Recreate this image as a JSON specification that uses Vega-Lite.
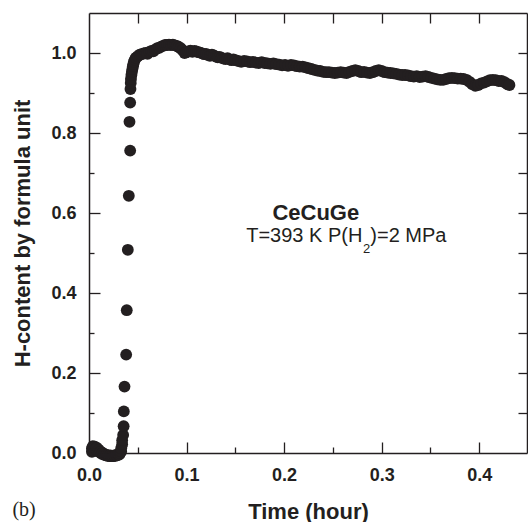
{
"$schema": "https://vega.github.io/schema/vega-lite/v6.json",
"width": 438, "height": 440,
"autosize": {"type": "none"},
"padding": {"left": 89, "top": 13, "right": 1, "bottom": 69},
"background": "white",
"config": {"view": {"stroke": null}, "axis": {"grid": false, "domainColor": "#231f20", "domainWidth": 1.5, "tickColor": "#231f20", "tickWidth": 1.3, "labelFont": "Liberation Sans", "labelFontWeight": "bold", "labelFontSize": 18, "labelColor": "#231f20", "titleFont": "Liberation Sans", "titleFontWeight": "bold", "titleFontSize": 22, "titleColor": "#231f20", "labelOverlap": false, "labelFlush": false, "labelBound": false}},
"datasets": {"h": [
{"t":0.003,"h":0.003},{"t":0.003,"h":0.012},{"t":0.004,"h":0.017},{"t":0.005,"h":0.006},{"t":0.006,"h":0.016},{"t":0.007,"h":0.010},{"t":0.008,"h":0.013},{"t":0.009,"h":0.004},{"t":0.010,"h":0.008},{"t":0.011,"h":0.002},{"t":0.012,"h":0.003},{"t":0.013,"h":-0.002},{"t":0.014,"h":0.0},{"t":0.015,"h":-0.004},{"t":0.016,"h":-0.003},{"t":0.017,"h":-0.006},{"t":0.018,"h":-0.005},{"t":0.019,"h":-0.007},{"t":0.020,"h":-0.006},{"t":0.021,"h":-0.008},{"t":0.022,"h":-0.006},{"t":0.023,"h":-0.008},{"t":0.024,"h":-0.007},{"t":0.025,"h":-0.008},{"t":0.026,"h":-0.006},{"t":0.027,"h":-0.007},{"t":0.028,"h":-0.005},{"t":0.029,"h":-0.006},{"t":0.030,"h":-0.003},{"t":0.031,"h":-0.004},{"t":0.032,"h":0.0},{"t":0.033,"h":0.004},{"t":0.033,"h":0.012},{"t":0.034,"h":0.022},{"t":0.034,"h":0.032},{"t":0.035,"h":0.045},{"t":0.0355,"h":0.067},{"t":0.0357,"h":0.104},{"t":0.0364,"h":0.166},{"t":0.0381,"h":0.246},{"t":0.0387,"h":0.357},{"t":0.0398,"h":0.508},{"t":0.0408,"h":0.643},{"t":0.0422,"h":0.756},{"t":0.0415,"h":0.828},{"t":0.0422,"h":0.876},{"t":0.0425,"h":0.91},
{"t":0.0428,"h":0.925},{"t":0.043,"h":0.935},{"t":0.0435,"h":0.945},{"t":0.044,"h":0.953},{"t":0.0445,"h":0.96},{"t":0.045,"h":0.967},{"t":0.0455,"h":0.972},{"t":0.046,"h":0.978},{"t":0.047,"h":0.983},{"t":0.048,"h":0.988},{"t":0.050,"h":0.992},{"t":0.052,"h":0.996},{"t":0.054,"h":0.997},{"t":0.056,"h":0.999},{"t":0.058,"h":1.0},{"t":0.060,"h":0.998},{"t":0.062,"h":1.003},{"t":0.064,"h":1.005},{"t":0.066,"h":1.004},{"t":0.068,"h":1.009},{"t":0.070,"h":1.012},{"t":0.072,"h":1.013},{"t":0.074,"h":1.016},{"t":0.076,"h":1.018},{"t":0.078,"h":1.02},{"t":0.080,"h":1.02},{"t":0.082,"h":1.021},{"t":0.084,"h":1.02},{"t":0.086,"h":1.021},{"t":0.088,"h":1.019},{"t":0.090,"h":1.018},{"t":0.092,"h":1.015},{"t":0.094,"h":1.012},{"t":0.096,"h":1.007},{"t":0.098,"h":1.0},{"t":0.100,"h":1.002},{"t":0.102,"h":1.004},{"t":0.104,"h":1.006},{"t":0.106,"h":1.003},{"t":0.108,"h":1.005},{"t":0.110,"h":1.004},{"t":0.112,"h":1.002},{"t":0.114,"h":1.001},{"t":0.116,"h":0.999},{"t":0.118,"h":0.997},{"t":0.120,"h":0.998},{"t":0.122,"h":0.995},{"t":0.124,"h":0.993},{"t":0.126,"h":0.996},{"t":0.128,"h":0.994},{"t":0.130,"h":0.991},{"t":0.132,"h":0.989},{"t":0.134,"h":0.99},{"t":0.136,"h":0.988},{"t":0.138,"h":0.986},{"t":0.140,"h":0.985},{"t":0.142,"h":0.987},{"t":0.144,"h":0.984},{"t":0.146,"h":0.982},{"t":0.148,"h":0.984},{"t":0.150,"h":0.982},{"t":0.153,"h":0.98},{"t":0.156,"h":0.978},{"t":0.159,"h":0.98},{"t":0.162,"h":0.979},{"t":0.165,"h":0.977},{"t":0.168,"h":0.978},{"t":0.171,"h":0.976},{"t":0.174,"h":0.975},{"t":0.177,"h":0.977},{"t":0.180,"h":0.975},{"t":0.183,"h":0.974},{"t":0.186,"h":0.973},{"t":0.189,"h":0.974},{"t":0.192,"h":0.972},{"t":0.195,"h":0.971},{"t":0.198,"h":0.969},{"t":0.201,"h":0.97},{"t":0.204,"h":0.968},{"t":0.207,"h":0.97},{"t":0.210,"h":0.969},{"t":0.213,"h":0.967},{"t":0.216,"h":0.966},{"t":0.219,"h":0.966},{"t":0.222,"h":0.964},{"t":0.225,"h":0.962},{"t":0.228,"h":0.96},{"t":0.231,"h":0.958},{"t":0.234,"h":0.956},{"t":0.237,"h":0.955},{"t":0.240,"h":0.953},{"t":0.243,"h":0.952},{"t":0.246,"h":0.952},{"t":0.249,"h":0.951},{"t":0.252,"h":0.95},{"t":0.255,"h":0.951},{"t":0.258,"h":0.952},{"t":0.261,"h":0.951},{"t":0.264,"h":0.95},{"t":0.267,"h":0.953},{"t":0.270,"h":0.955},{"t":0.273,"h":0.957},{"t":0.276,"h":0.955},{"t":0.279,"h":0.952},{"t":0.282,"h":0.953},{"t":0.285,"h":0.951},{"t":0.288,"h":0.95},{"t":0.291,"h":0.952},{"t":0.294,"h":0.955},{"t":0.297,"h":0.957},{"t":0.300,"h":0.955},{"t":0.303,"h":0.952},{"t":0.306,"h":0.951},{"t":0.309,"h":0.95},{"t":0.312,"h":0.949},{"t":0.315,"h":0.948},{"t":0.318,"h":0.946},{"t":0.321,"h":0.945},{"t":0.324,"h":0.945},{"t":0.327,"h":0.944},{"t":0.330,"h":0.942},{"t":0.333,"h":0.941},{"t":0.336,"h":0.942},{"t":0.339,"h":0.94},{"t":0.342,"h":0.941},{"t":0.345,"h":0.942},{"t":0.348,"h":0.94},{"t":0.351,"h":0.938},{"t":0.354,"h":0.936},{"t":0.357,"h":0.934},{"t":0.360,"h":0.933},{"t":0.363,"h":0.933},{"t":0.366,"h":0.935},{"t":0.369,"h":0.937},{"t":0.372,"h":0.938},{"t":0.375,"h":0.937},{"t":0.378,"h":0.936},{"t":0.381,"h":0.936},{"t":0.384,"h":0.935},{"t":0.387,"h":0.933},{"t":0.390,"h":0.928},{"t":0.393,"h":0.922},{"t":0.396,"h":0.918},{"t":0.399,"h":0.92},{"t":0.402,"h":0.924},{"t":0.405,"h":0.926},{"t":0.408,"h":0.929},{"t":0.411,"h":0.932},{"t":0.414,"h":0.933},{"t":0.417,"h":0.932},{"t":0.420,"h":0.93},{"t":0.423,"h":0.93},{"t":0.426,"h":0.927},{"t":0.429,"h":0.922},{"t":0.431,"h":0.92}
]},
"layer": [
{"data": {"name": "h"},
 "mark": {"type": "point", "filled": true, "size": 140, "opacity": 1, "color": "#231f20", "clip": false},
 "encoding": {
  "x": {"field": "t", "type": "quantitative", "scale": {"domain": [0, 0.449], "nice": false, "zero": false},
   "axis": {"orient": "bottom", "values": [0,0.05,0.1,0.15,0.2,0.25,0.3,0.35,0.4],
    "labelExpr": "abs(datum.value*10 - round(datum.value*10)) < 0.001 ? format(datum.value, '.1f') : ''",
    "tickSize": {"condition": {"test": "abs(datum.value*10 - round(datum.value*10)) < 0.001", "value": -11}, "value": -6},
    "labelPadding": 24, "title": "Time (hour)", "titleBaseline": "alphabetic", "titleY": 65}},
  "y": {"field": "h", "type": "quantitative", "scale": {"domain": [0, 1.1], "nice": false, "zero": false},
   "axis": {"orient": "left", "values": [0,0.1,0.2,0.3,0.4,0.5,0.6,0.7,0.8,0.9,1.0],
    "labelExpr": "abs(datum.value*5 - round(datum.value*5)) < 0.001 ? format(datum.value, '.1f') : ''",
    "tickSize": {"condition": {"test": "abs(datum.value*5 - round(datum.value*5)) < 0.001", "value": -11}, "value": -5},
    "labelPadding": 24, "title": "H-content by formula unit", "titleAngle": 270, "titleAlign": "center", "titleBaseline": "alphabetic", "titleX": -60, "titleY": 220}}
 }},
{"data": {"name": "h"},
 "mark": {"type": "point", "opacity": 0},
 "encoding": {
  "x": {"field": "t", "type": "quantitative", "scale": {"domain": [0, 0.449], "nice": false, "zero": false},
   "axis": {"orient": "top", "values": [0.05,0.1,0.15,0.2,0.25,0.3,0.35,0.4], "labels": false, "tickSize": -10, "title": null}},
  "y": {"field": "h", "type": "quantitative", "scale": {"domain": [0, 1.1], "nice": false, "zero": false},
   "axis": {"orient": "right", "values": [0.1,0.2,0.3,0.4,0.5,0.6,0.7,0.8,0.9,1.0], "labels": false, "tickSize": -9, "title": null}}
 }},
{"data": {"values": [{"label": "CeCuGe"}]},
 "mark": {"type": "text", "align": "left", "baseline": "alphabetic", "font": "Liberation Sans", "fontWeight": "bold", "fontSize": 22, "color": "#231f20"},
 "encoding": {"text": {"field": "label"},
  "x": {"datum": 0.188, "type": "quantitative", "scale": {"domain": [0, 0.449], "nice": false, "zero": false}, "axis": null},
  "y": {"datum": 0.583, "type": "quantitative", "scale": {"domain": [0, 1.1], "nice": false, "zero": false}, "axis": null}}},
{"data": {"values": [{"label": "T=393 K P(H"}]},
 "mark": {"type": "text", "align": "right", "baseline": "alphabetic", "font": "Liberation Sans", "fontSize": 20, "color": "#231f20"},
 "encoding": {"text": {"field": "label"},
  "x": {"datum": 0.2802, "type": "quantitative", "scale": {"domain": [0, 0.449], "nice": false, "zero": false}, "axis": null},
  "y": {"datum": 0.528, "type": "quantitative", "scale": {"domain": [0, 1.1], "nice": false, "zero": false}, "axis": null}}},
{"data": {"values": [{"label": "2"}]},
 "mark": {"type": "text", "align": "left", "baseline": "alphabetic", "font": "Liberation Sans", "fontSize": 13, "color": "#231f20"},
 "encoding": {"text": {"field": "label"},
  "x": {"datum": 0.2808, "type": "quantitative", "scale": {"domain": [0, 0.449], "nice": false, "zero": false}, "axis": null},
  "y": {"datum": 0.5, "type": "quantitative", "scale": {"domain": [0, 1.1], "nice": false, "zero": false}, "axis": null}}},
{"data": {"values": [{"label": ")=2 MPa"}]},
 "mark": {"type": "text", "align": "left", "baseline": "alphabetic", "font": "Liberation Sans", "fontSize": 20, "color": "#231f20"},
 "encoding": {"text": {"field": "label"},
  "x": {"datum": 0.2884, "type": "quantitative", "scale": {"domain": [0, 0.449], "nice": false, "zero": false}, "axis": null},
  "y": {"datum": 0.528, "type": "quantitative", "scale": {"domain": [0, 1.1], "nice": false, "zero": false}, "axis": null}}},
{"data": {"values": [{"label": "(b)"}]},
 "mark": {"type": "text", "align": "left", "baseline": "alphabetic", "font": "Liberation Serif", "fontSize": 20, "color": "#231f20"},
 "encoding": {"text": {"field": "label"},
  "x": {"datum": -0.0785, "type": "quantitative", "scale": {"domain": [0, 0.449], "nice": false, "zero": false}, "axis": null},
  "y": {"datum": -0.157, "type": "quantitative", "scale": {"domain": [0, 1.1], "nice": false, "zero": false}, "axis": null}}}
],
"resolve": {"axis": {"x": "independent", "y": "independent"}}
}
